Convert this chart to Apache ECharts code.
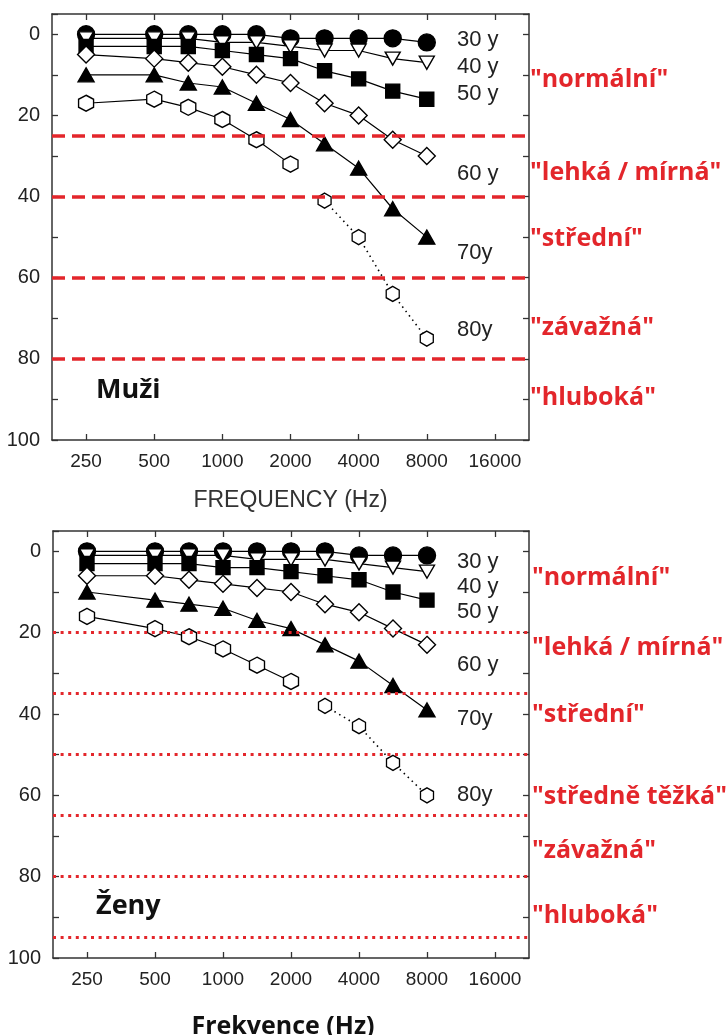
<!DOCTYPE html>
<html><head><meta charset="utf-8">
<script src="https://cdn.jsdelivr.net/npm/echarts@6/dist/echarts.min.js"></script>
<style>html,body{margin:0;padding:0;background:#fff}#c{width:727px;height:1035px}</style>
</head><body><div id="c"></div>
<script>
// ---- axis categories (half-octave steps) and tick labels ----
const xCategories = ['177','250','354','500','750','1000','1500','2000','3000','4000','6000','8000','12000','16000','22600'];
const xTickLabels = ['250','500','1000','2000','4000','8000','16000'];
const freqs = ['250','500','750','1000','1500','2000','3000','4000','6000','8000'];
const yTickLabels = [0, 20, 40, 60, 80, 100];

// ---- Muži (men), hearing threshold dB ----
const men30 = [0, 0, 0, 0, 0, 1, 1, 1, 1, 2];
const men40 = [1, 1, 1, 2, 2, 3, 4, 4, 6, 7];
const men50 = [3, 3, 3, 4, 5, 6, 9, 11, 14, 16];
const men60 = [5, 6, 7, 8, 10, 12, 17, 20, 26, 30];
const men70 = [10, 10, 12, 13, 17, 21, 27, 33, 43, 50];
const men80 = [17, 16, 18, 21, 26, 32, 41, 50, 64, 75];
const menLimits = [25, 40, 60, 80];
const menCategories = ['"normální"', '"lehká / mírná"', '"střední"', '"závažná"', '"hluboká"'];

// ---- Ženy (women) ----
const women30 = [0, 0, 0, 0, 0, 0, 0, 1, 1, 1];
const women40 = [1, 1, 1, 1, 2, 2, 2, 3, 4, 5];
const women50 = [3, 3, 3, 4, 4, 5, 6, 7, 10, 12];
const women60 = [6, 6, 7, 8, 9, 10, 13, 15, 19, 23];
const women70 = [10, 12, 13, 14, 17, 19, 23, 27, 33, 39];
const women80 = [16, 19, 21, 24, 28, 32, 38, 43, 52, 60];
const womenLimits = [20, 35, 50, 65, 80, 95];
const womenCategories = ['"normální"', '"lehká / mírná"', '"střední"', '"středně těžká"', '"závažná"', '"hluboká"'];

const ageLabels = ['30 y', '40 y', '50 y', '60 y', '70y', '80y'];
const solidCount80 = 6; // 80y: solid up to 2000 Hz, dotted after

const HEX = 'path://M0,-10L8.66,-5L8.66,5L0,10L-8.66,5L-8.66,-5Z';
const styles = [
  {symbol: 'circle', size: 17, fill: '#000', rot: 0},
  {symbol: 'triangle', size: [15, 13], fill: '#fff', rot: 180},
  {symbol: 'rect', size: 14, fill: '#000', rot: 0},
  {symbol: 'diamond', size: [17, 17], fill: '#fff', rot: 0},
  {symbol: 'triangle', size: [16, 14], fill: '#000', rot: 0},
  {symbol: HEX, size: [15, 16], fill: '#fff', rot: 0}
];

function mk(name, grid, fIdx, vals, st, lineType, symSize) {
  return {
    type: 'line', name: name, xAxisIndex: grid * 2, yAxisIndex: grid * 2,
    data: fIdx.map(i => [freqs[i], vals[i]]),
    symbol: st.symbol, symbolSize: symSize || st.size, symbolRotate: st.rot, symbolKeepAspect: false,
    showSymbol: true, animation: false, silent: true,
    lineStyle: {color: '#000', width: lineType === 'dotted' ? 1.6 : 1.2, type: lineType === 'dotted' ? [1.5, 4] : 'solid'},
    itemStyle: {color: st.fill, borderColor: '#000', borderWidth: 1.4, opacity: 1}
  };
}

function groupSeries(grid, arrs, limits, dashType, dashWidth) {
  const all = freqs.map((f, i) => i);
  const out = [];
  arrs.forEach((vals, k) => {
    if (k < 5) out.push(mk(ageLabels[k], grid, all, vals, styles[k], 'solid'));
  });
  out.push(mk(ageLabels[5], grid, all.slice(0, solidCount80), arrs[5], styles[5], 'solid'));
  out.push(mk(ageLabels[5] + ' dotted', grid, all.slice(solidCount80), arrs[5], styles[5], 'dotted', [13, 15]));
  out[0].markLine = {
    silent: true, symbol: ['none', 'none'], animation: false, label: {show: false},
    lineStyle: {color: '#e3262b', width: dashWidth, type: dashType, opacity: 1},
    data: limits.map(v => ({yAxis: v}))
  };
  return out;
}

function xAx(grid, pos, withLabels, nameText, nameStyle, nameGap) {
  const showTick = (i, v) => xTickLabels.indexOf(v) >= 0;
  return {
    type: 'category', gridIndex: grid, position: pos, data: xCategories, boundaryGap: false,
    axisLine: {show: true, onZero: false, lineStyle: {color: '#333', width: 1.5}},
    axisTick: {show: true, inside: true, length: 6, interval: showTick, lineStyle: {color: '#333', width: 1.3}},
    axisLabel: {show: withLabels, interval: showTick, fontSize: 19, color: '#222', fontFamily: 'Liberation Sans', margin: 12},
    splitLine: {show: false},
    name: nameText || '', nameLocation: 'middle', nameGap: nameGap || 0, nameTextStyle: nameStyle || {}
  };
}
function yAx(grid, pos, withLabels) {
  return {
    type: 'value', gridIndex: grid, position: pos, inverse: true, min: -5, max: 100, splitNumber: 10,
    axisLine: {show: true, onZero: false, lineStyle: {color: '#333', width: 1.5}},
    axisTick: {show: true, inside: true, length: 6, lineStyle: {color: '#333', width: 1.3}},
    axisLabel: {show: withLabels, fontSize: 20, color: '#222', fontFamily: 'Liberation Sans', margin: 12,
      formatter: v => (yTickLabels.indexOf(v) >= 0 ? String(v) : '')},
    splitLine: {show: false}
  };
}

const redFont = {fontFamily: 'Open Sans', fontWeight: 'bold', fontSize: 25, fill: '#e3262b'};
const ageFont = {fontFamily: 'Liberation Sans', fontSize: 22, fill: '#222'};
const panelFont = {fontFamily: 'Open Sans', fontWeight: 'bold', fontSize: 27, fill: '#111'};
function texts(list, x, ys, font) {
  return list.map((t, i) => ({type: 'text', x: x, y: ys[i], silent: true,
    style: Object.assign({text: t, align: 'left', verticalAlign: 'middle'}, font)}));
}

const chart = echarts.init(document.getElementById('c'), null, {renderer: 'canvas'});
chart.setOption({
  animation: false,
  backgroundColor: '#fff',
  grid: [
    {left: 52, top: 14, width: 477, height: 426, outerBoundsMode: 'none', containLabel: false},
    {left: 53, top: 531, width: 476, height: 427, outerBoundsMode: 'none', containLabel: false}
  ],
  xAxis: [
    xAx(0, 'bottom', true, 'FREQUENCY (Hz)', {fontSize: 23, color: '#333', fontFamily: 'Liberation Sans'}, 49),
    xAx(0, 'top', false),
    xAx(1, 'bottom', true, 'Frekvence (Hz)', {fontSize: 25, color: '#111', fontFamily: 'Open Sans', fontWeight: 'bold', padding: [0, 16, 0, 0]}, 56),
    xAx(1, 'top', false)
  ],
  yAxis: [yAx(0, 'left', true), yAx(0, 'right', false), yAx(1, 'left', true), yAx(1, 'right', false)],
  series: [].concat(
    groupSeries(0, [men30, men40, men50, men60, men70, men80], menLimits, [13, 7], 3.5),
    groupSeries(1, [women30, women40, women50, women60, women70, women80], womenLimits, [3, 4.6], 3)
  ),
  graphic: [].concat(
    texts(menCategories, 530, [80, 173, 239, 328, 398], redFont),
    texts(womenCategories, 532, [578, 648, 715, 797, 851, 916], redFont),
    texts(ageLabels, 457, [40, 67, 94, 174, 253, 330], ageFont),
    texts(ageLabels, 457, [562, 587, 612, 665, 719, 795], ageFont),
    texts(['Muži'], 96, [390], panelFont),
    texts(['Ženy'], 96, [906], panelFont)
  )
});
</script></body></html>
